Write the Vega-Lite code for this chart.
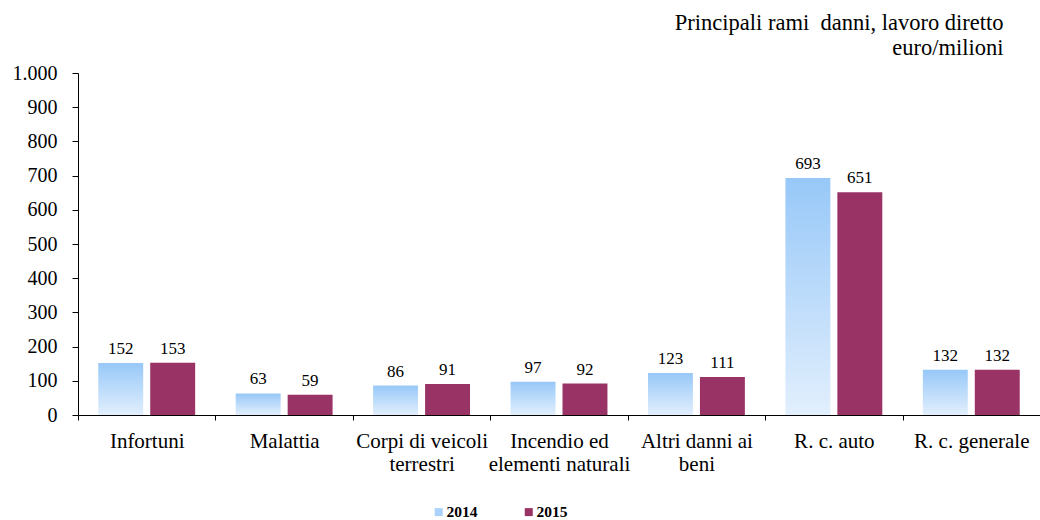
{
  "$schema": "https://vega.github.io/schema/vega-lite/v6.json",
  "autosize": "none",
  "width": 962,
  "height": 342,
  "padding": {"left": 78, "top": 73, "right": 0, "bottom": 105},
  "background": "white",
  "title": {
    "text": ["Principali rami\u00a0 danni, lavoro diretto", "euro/milioni"],
    "anchor": "end",
    "align": "right",
    "dx": -37,
    "offset": 4,
    "font": "Times New Roman, Liberation Serif, serif",
    "fontSize": 22.5,
    "fontWeight": "normal",
    "lineHeight": 25,
    "color": "#000000"
  },
  "data": {
    "values": [
      {"ramo": "Infortuni", "anno": "2014", "valore": 152},
      {"ramo": "Infortuni", "anno": "2015", "valore": 153},
      {"ramo": "Malattia", "anno": "2014", "valore": 63},
      {"ramo": "Malattia", "anno": "2015", "valore": 59},
      {"ramo": "Corpi di veicoli terrestri", "anno": "2014", "valore": 86},
      {"ramo": "Corpi di veicoli terrestri", "anno": "2015", "valore": 91},
      {"ramo": "Incendio ed elementi naturali", "anno": "2014", "valore": 97},
      {"ramo": "Incendio ed elementi naturali", "anno": "2015", "valore": 92},
      {"ramo": "Altri danni ai beni", "anno": "2014", "valore": 123},
      {"ramo": "Altri danni ai beni", "anno": "2015", "valore": 111},
      {"ramo": "R. c. auto", "anno": "2014", "valore": 693},
      {"ramo": "R. c. auto", "anno": "2015", "valore": 651},
      {"ramo": "R. c. generale", "anno": "2014", "valore": 132},
      {"ramo": "R. c. generale", "anno": "2015", "valore": 132}
    ]
  },
  "encoding": {
    "x": {
      "field": "ramo",
      "type": "nominal",
      "sort": null,
      "scale": {"paddingInner": 0, "paddingOuter": 0},
      "axis": {
        "title": null,
        "labelAngle": 0,
        "tickBand": "extent",
        "tickSize": 5,
        "tickColor": "#000000",
        "domainColor": "#000000",
        "labelFont": "Times New Roman, Liberation Serif, serif",
        "labelFontSize": 21,
        "labelColor": "#000000",
        "labelPadding": 10,
        "labelLineHeight": 23,
        "labelBaseline": "top",
        "labelExpr": "datum.label == 'Corpi di veicoli terrestri' ? ['Corpi di veicoli', 'terrestri'] : datum.label == 'Incendio ed elementi naturali' ? ['Incendio ed', 'elementi naturali'] : datum.label == 'Altri danni ai beni' ? ['Altri danni ai', 'beni'] : datum.label"
      }
    },
    "xOffset": {
      "field": "anno",
      "type": "nominal",
      "scale": {"paddingInner": 0.135, "paddingOuter": 0.39}
    },
    "y": {
      "field": "valore",
      "type": "quantitative",
      "scale": {"domain": [0, 1000], "nice": false},
      "axis": {
        "title": null,
        "values": [0, 100, 200, 300, 400, 500, 600, 700, 800, 900, 1000],
        "grid": false,
        "tickSize": 6,
        "tickColor": "#000000",
        "domainColor": "#000000",
        "labelFont": "Times New Roman, Liberation Serif, serif",
        "labelFontSize": 20,
        "labelColor": "#000000",
        "labelPadding": 15,
        "labelExpr": "replace(format(datum.value, ','), ',', '.')"
      }
    }
  },
  "layer": [
    {
      "mark": {"type": "bar"},
      "encoding": {
        "fill": {
          "field": "anno",
          "type": "nominal",
          "scale": {"domain": ["2014", "2015"], "range": ["#A9D3FA", "#993366"]},
          "condition": {
            "test": "datum.anno == '2014'",
            "value": {"gradient": "linear", "x1": 0, "y1": 0, "x2": 0, "y2": 1,
              "stops": [{"offset": 0, "color": "#97C8F8"}, {"offset": 1, "color": "#E2EFFD"}]}
          },
          "legend": {
            "title": null,
            "orient": "none",
            "direction": "horizontal",
            "legendX": 353,
            "legendY": 431,
            "symbolType": "square",
            "symbolSize": 64,
            "symbolStrokeWidth": 0,
            "labelFont": "Times New Roman, Liberation Serif, serif",
            "labelFontSize": 15.5,
            "labelFontWeight": "bold",
            "labelColor": "#000000",
            "labelOffset": 0,
            "columnPadding": 43,
            "encode": {
              "symbols": {
                "update": {
                  "fill": [
                    {"test": "datum.value === '2014'", "value": {"gradient": "linear", "x1": 0, "y1": 0, "x2": 0, "y2": 1,
                      "stops": [{"offset": 0, "color": "#97C8F8"}, {"offset": 1, "color": "#E2EFFD"}]}},
                    {"value": "#993366"}
                  ]
                }
              }
            }
          }
        }
      }
    },
    {
      "mark": {"type": "text", "baseline": "alphabetic", "dy": -9, "font": "Times New Roman, Liberation Serif, serif", "fontSize": 17, "color": "#000000"},
      "encoding": {
        "text": {"field": "valore", "type": "quantitative"}
      }
    }
  ],
  "config": {
    "view": {"stroke": null}
  }
}
